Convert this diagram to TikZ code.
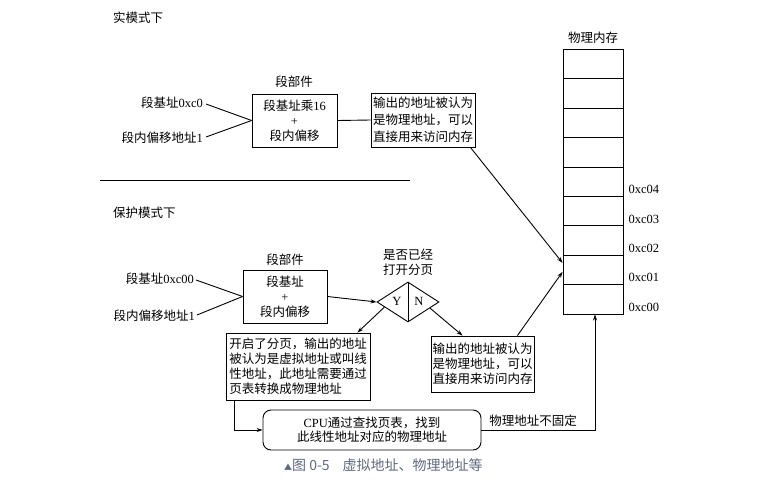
\documentclass[tikz,border=0pt]{standalone}
\usepackage{fontspec}
\setmainfont{Liberation Serif}
\newfontfamily\cjk{Noto Sans CJK SC}
\newfontfamily\latinfont{Liberation Serif}
\usepackage{tikz}
\usetikzlibrary{calc,arrows.meta,shapes.geometric}
\definecolor{capgray}{RGB}{95,105,125}
\newcommand{\lt}[1]{{\latinfont #1}}

\begin{document}
\begin{tikzpicture}[x=1pt,y=-1pt,
	every node/.style={font=\cjk\fontsize{12.5}{15}\selectfont, inner sep=0pt},
	box/.style={draw, line width=0.9pt, align=center},
	mem/.style={draw, line width=0.9pt, minimum width=60pt, minimum height=29.4pt},
	arr/.style={line width=0.9pt, -{Stealth[length=6pt,width=4pt]}},
	wire/.style={line width=0.9pt}]
		%%%%% START %%%%%
		\useasboundingbox (0,0) rectangle (759,481);
		
		% real mode
		\node[anchor=west] (realtitle) at (113,18) {实模式下};
		\node (realunitlbl) at (294,82) {段部件};
		\node[box, minimum width=85pt, minimum height=53pt] (realunit) at (294.5,120.5) {段基址乘\lt{16}\\\lt{+}\\段内偏移};
		\node[anchor=east] (realbase) at (203,103) {段基址\lt{0xc0}};
		\node[anchor=east] (realoff) at (203,138) {段内偏移地址\lt{1}};
		\draw[wire] ($(realbase.east)+(3,1)$) -- (realunit.west);
		\draw[wire] ($(realoff.east)+(3,-1)$) -- (realunit.west);
		\node[box, minimum width=104pt, minimum height=54pt, font=\cjk\fontsize{12.5}{17}\selectfont] (realout) at (423,120) {输出的地址被认为\\是物理地址，可以\\直接用来访问内存};
		\draw[wire] (realunit.east) -- (realout.west);
		
		% physical memory
		\foreach \i in {0,...,8}
			\node[mem] (mem\i) at (593,{299.3-29.4*\i}) {};
		\node (memlbl) at (593,38) {物理内存};
		\foreach \i/\a in {0/0xc00,1/0xc01,2/0xc02,3/0xc03,4/0xc04}
			\node[anchor=west] (addr\i) at ($(mem\i.east)+(5,8)$) {\lt{\a}};
		
		\draw[arr] ($(realout.south east)+(-5,0)$) -- ($(mem1.west)+(0,-7)$);
		
		\draw[wire] (100,180) -- (410,180);
		
		% protected mode
		\node[anchor=west] (prottitle) at (113,213) {保护模式下};
		\node (protunitlbl) at (285,260) {段部件};
		\node[box, minimum width=84pt, minimum height=53pt] (protunit) at (285,296.5) {段基址\\\lt{+}\\段内偏移};
		\node[anchor=east] (protbase) at (194,279) {段基址\lt{0xc00}};
		\node[anchor=east] (protoff) at (195,316) {段内偏移地址\lt{1}};
		\draw[wire] ($(protbase.east)+(2,1)$) -- (protunit.west);
		\draw[wire] ($(protoff.east)+(2,-1)$) -- (protunit.west);
		
		\node[diamond, draw, line width=0.9pt, minimum width=62pt, minimum height=40pt] (pagecheck) at (408,302) {};
		\draw[wire] (pagecheck.north) -- (pagecheck.south);
		\node (yes) at (397,301) {\lt{Y}};
		\node (no) at (419,301) {\lt{N}};
		\node[align=center] (pagelbl) at (408,262) {是否已经\\打开分页};
		\draw[arr] (protunit.east) -- (pagecheck.west);
		
		\node[box, minimum width=144pt, minimum height=67pt, align=left] (pagingbox) at (298,366.5) {开启了分页，输出的地址\\被认为是虚拟地址或叫线\\性地址，此地址需要通过\\页表转换成物理地址};
		\node[box, minimum width=103pt, minimum height=56pt] (physout) at (482.5,364) {输出的地址被认为\\是物理地址，可以\\直接用来访问内存};
		\draw[arr] ($(pagecheck.west)!0.25!(pagecheck.south)$) -- ($(pagingbox.north east)+(-13,0)$);
		\draw[arr] ($(pagecheck.east)!0.3!(pagecheck.south)$) -- ($(physout.north west)+(32,0)$);
		\draw[arr] ($(physout.north east)+(-17,0)$) -- ($(mem1.west)+(0,2)$);
		
		\node[box, rounded corners=8pt, minimum width=218pt, minimum height=40pt, font=\cjk\fontsize{12.5}{14}\selectfont] (cpubox) at (372,430) {\lt{CPU}通过查找页表，找到\\此线性地址对应的物理地址};
		\draw[arr] ($(pagingbox.south west)+(9,0)$) |- (cpubox.west);
		\draw[arr] (cpubox.east) -| ($(mem0.south)+(2,0)$);
		\node (fixlbl) at (533,421) {物理地址不固定};
		
		\node[anchor=west, text=capgray, font=\cjk\fontsize{14}{16}\selectfont] (caption) at (284,465) {{\fontsize{8}{9}\selectfont ▲}图 0-5\hspace{13pt}虚拟地址、物理地址等};
		
		%%%%% END %%%%%
	\end{tikzpicture}
\end{document}
